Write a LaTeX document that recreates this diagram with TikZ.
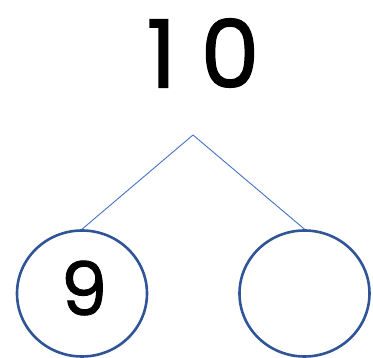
\documentclass[tikz,border=0pt]{standalone}
\usepackage{fontspec}
\setmainfont{Poppins}
\usetikzlibrary{shapes.geometric}
\definecolor{linkblue}{HTML}{4472C4}
\definecolor{ringblue}{HTML}{2F5597}
\tikzset{
  bond/.style={ellipse, draw=ringblue, line width=2.6pt, minimum width=130pt, minimum height=126pt, inner sep=0pt},
  link/.style={draw=linkblue, line width=0.9pt},
  whole/.style={inner sep=0pt, font=\fontsize{94}{94}\selectfont\addfontfeature{FakeBold=1.2}},
  part/.style={inner sep=0pt, font=\fontsize{74}{74}\selectfont\addfontfeature{FakeBold=1.2}}
}
\begin{document}
\begin{tikzpicture}[x=1pt,y=-1pt]
\useasboundingbox (0,0) rectangle (373,358);
\node[whole] (ten) at (203,53) {1\hspace{24pt}0};
\coordinate (apex) at (193,135);
\node[bond] (left) at (82,293.5) {};
\node[bond] (right) at (304.5,293.5) {};
\node[part] (nine) at (84,288) {9};
\draw[link] (apex) -- (left.north);
\draw[link] (apex) -- (right.north);
\end{tikzpicture}
\end{document}
